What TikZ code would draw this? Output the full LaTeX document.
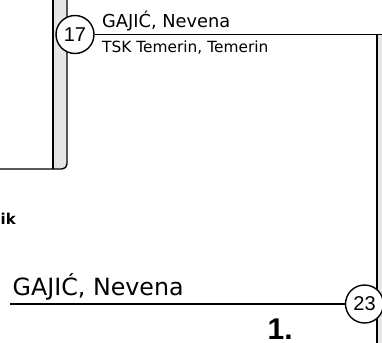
\documentclass[tikz,border=0pt]{standalone}
\usepackage{fontspec}
\newfontfamily\namefont{DejaVu Sans}
\newfontfamily\numfont{Liberation Sans}
\definecolor{barfill}{HTML}{E6E6E6}
\begin{document}
\begin{tikzpicture}[x=1pt,y=-1pt,line width=1.4pt,
  numcirc/.style={circle,draw,fill=white,minimum size=38pt,inner sep=0pt,line width=1.4pt,
    font=\numfont\fontsize{20}{20}\selectfont},
  txt/.style={anchor=base west,inner sep=0pt}]
\useasboundingbox (0,0) rectangle (382,342);
% left box: gray strip with rounded bottom-right corner
\fill[barfill] (53,-5) -- (53,169) -- (62,169) arc[start angle=90,end angle=0,radius=5] -- (67,-5) -- cycle;
\draw (53,-5) -- (53,169);
\draw (-5,169) -- (62,169) arc[start angle=90,end angle=0,radius=5] -- (67,-5);
% right box strip
\fill[barfill] (377,34.5) rectangle (392,350);
\draw[line width=1.8pt] (377,34.5) -- (377,350);
% match 17
\node[numcirc] (c17) at (75,34.5) {17};
\coordinate (tr) at (392,34.5);
\draw (c17) -- (tr);
\node[txt,font=\namefont\fontsize{17.8}{20}\selectfont] (n1) at (101.5,27.5) {GAJIĆ, Nevena};
\node[txt,font=\namefont\fontsize{15.4}{18}\selectfont] (s1) at (101.5,53) {TSK Temerin, Temerin};
% label cut at left
\node[txt,font=\namefont\bfseries\fontsize{15}{15}\selectfont] (ik) at (0,224) {ik};
% match 23
\node[numcirc] (c23) at (364.5,304) {23};
\coordinate (bl) at (10,304);
\draw (bl) -- (c23);
\node[txt,font=\namefont\fontsize{23.75}{26}\selectfont] (n2) at (12,295) {GAJIĆ, Nevena};
\node[txt,font=\numfont\bfseries\fontsize{30}{30}\selectfont] (r1) at (267,339.5) {1.};
\end{tikzpicture}
\end{document}
